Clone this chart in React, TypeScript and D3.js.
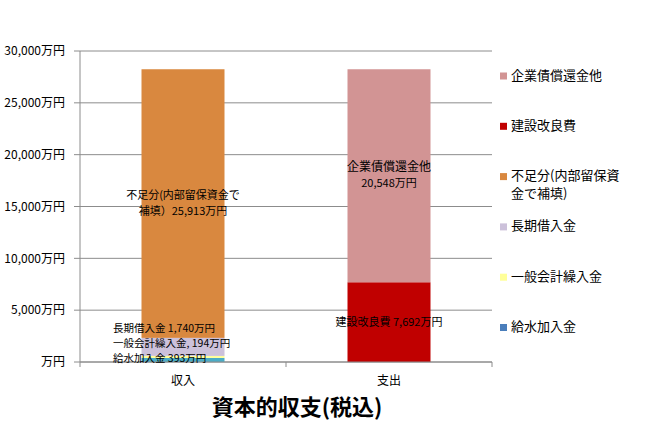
import React from "react";
import * as d3 from "d3";

const categories = ["収入", "支出"];
const seriesNames = ["給水加入金", "一般会計繰入金", "長期借入金", "不足分(内部留保資金で補填)", "建設改良費", "企業債償還金他"];
const seriesValues: number[][] = [
  [393, 0],
  [194, 0],
  [1740, 0],
  [25913, 0],
  [0, 7692],
  [0, 20548],
];
const seriesColors = ["#4BACC6", "#FFFF99", "#CCC1DA", "#D9883F", "#C00000", "#D29494"];
const legendColors = ["#4A7EBB", "#FFFF99", "#CCC1DA", "#D9883F", "#C00000", "#D29494"];
const legendLabels = [["給水加入金"], ["一般会計繰入金"], ["長期借入金"], ["不足分(内部留保資", "金で補填)"], ["建設改良費"], ["企業債償還金他"]];
const yTicks = [0, 5000, 10000, 15000, 20000, 25000, 30000];
const title = "資本的収支(税込)";

const FONT = "'Noto Sans CJK JP', 'Noto Sans', sans-serif";

export default function App() {
  const W = 657, H = 442;
  const x0 = 80, x1 = 492, yTop = 51, yBot = 362;
  const y = d3.scaleLinear().domain([0, 30000]).range([yBot, yTop]);
  const fmt = d3.format(",");

  const stacked = d3.stack<number[]>().keys(seriesNames.map((_, i) => String(i))).value((d, k) => d[+k])(
    categories.map((_, ci) => seriesValues.map((s) => s[ci])) as any
  );

  const band = d3.scaleBand<string>().domain(categories).range([x0, x1]);
  const cx = (c: string) => (band(c) as number) + band.bandwidth() / 2;

  const labelStyle = { fontFamily: FONT, fontSize: 11, fill: "#000" } as const;
  const smallStyle = { fontFamily: FONT, fontSize: 10.5, fill: "#000" } as const;

  return (
    <svg width={W} height={H} style={{ position: "absolute", left: 0, top: 0, background: "#fff" }}>
      {yTicks.map((t) => (
        <g key={t}>
          <line x1={x0 - 6} x2={x1} y1={y(t)} y2={y(t)} stroke="#8C8C8C" strokeWidth={1} />
          <text x={65} y={y(t)} dy="0.35em" textAnchor="end" style={{ fontFamily: FONT, fontSize: 12, fill: "#000" }}>
            {t === 0 ? "万円" : fmt(t) + "万円"}
          </text>
        </g>
      ))}
      {stacked.map((layer, si) =>
        layer.map((seg, ci) => {
          const h = y(seg[0]) - y(seg[1]);
          if (h <= 0) return null;
          const bw = 83;
          const c = categories[ci];
          return (
            <rect key={si + "-" + ci} x={cx(c) - bw / 2} y={y(seg[1])} width={bw} height={h} fill={seriesColors[si]} />
          );
        })
      )}
      <line x1={x0} x2={x0} y1={yTop} y2={yBot} stroke="#8C8C8C" />
      <line x1={x0} x2={x1} y1={yBot} y2={yBot} stroke="#8C8C8C" />
      {[x0, band(categories[1]) as number, x1].map((tx, i) => (
        <line key={i} x1={tx} x2={tx} y1={yBot} y2={yBot + 5} stroke="#8C8C8C" />
      ))}
      {categories.map((c) => (
        <text key={c} x={cx(c)} y={381} dy="0.35em" textAnchor="middle" style={{ fontFamily: FONT, fontSize: 12, fill: "#000" }}>
          {c}
        </text>
      ))}
      <text x={cx(categories[0])} y={195} dy="0.35em" textAnchor="middle" style={labelStyle}>不足分(内部留保資金で</text>
      <text x={cx(categories[0])} y={211} dy="0.35em" textAnchor="middle" style={labelStyle}>{"補填）" + fmt(seriesValues[3][0]) + "万円"}</text>
      <text x={113} y={328} dy="0.35em" style={smallStyle}>{"長期借入金 " + fmt(seriesValues[2][0]) + "万円"}</text>
      <text x={113} y={343} dy="0.35em" style={smallStyle}>{"一般会計繰入金, " + fmt(seriesValues[1][0]) + "万円"}</text>
      <text x={113} y={358} dy="0.35em" style={smallStyle}>{"給水加入金 " + fmt(seriesValues[0][0]) + "万円"}</text>
      <text x={cx(categories[1])} y={167} dy="0.35em" textAnchor="middle" style={{ ...labelStyle, fontSize: 12 }}>企業債償還金他</text>
      <text x={cx(categories[1])} y={183} dy="0.35em" textAnchor="middle" style={labelStyle}>{fmt(seriesValues[5][1]) + "万円"}</text>
      <text x={cx(categories[1])} y={322} dy="0.35em" textAnchor="middle" style={labelStyle}>{"建設改良費 " + fmt(seriesValues[4][1]) + "万円"}</text>
      {legendLabels
        .map((lines, i) => ({ lines, i }))
        .reverse()
        .map(({ lines, i }, k) => {
          const ly = 76 + k * 50.3;
          return (
            <g key={i}>
              <rect x={500} y={ly - 3.5} width={7} height={7} fill={legendColors[i]} />
              {lines.map((ln, j) => (
                <text key={j} x={511} y={ly - 1 + j * 18} dy="0.35em" style={{ fontFamily: FONT, fontSize: 13, fill: "#000" }}>
                  {ln}
                </text>
              ))}
            </g>
          );
        })}
      <text x={297} y={407} dy="0.35em" textAnchor="middle" style={{ fontFamily: FONT, fontSize: 22, fontWeight: "bold", fill: "#000" }}>
        {title}
      </text>
    </svg>
  );
}
